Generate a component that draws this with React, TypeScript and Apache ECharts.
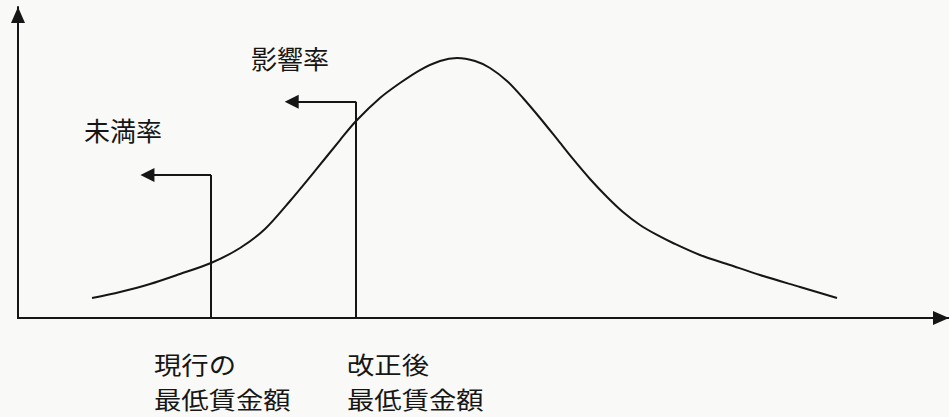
import React, { useEffect, useRef } from "react";
import * as echarts from "echarts";

// Wage index (x) and share of workers (y), conceptual distribution
const curveX = [7.95, 10.96, 14.18, 17.4, 20.73, 23.85, 26.53, 29.22, 31.9, 34.59, 36.31, 38.88, 41.03, 43.18, 45.33, 47.15, 49.09, 50.7, 52.52, 54.24, 56.07, 57.89, 59.61, 61.44, 63.27, 64.98, 66.81, 68.64, 70.35, 73.25, 76.48, 79.7, 84.0, 87.97];
const curveY = [6.43, 8.36, 10.93, 14.15, 17.68, 22.51, 28.62, 37.62, 47.27, 57.23, 63.34, 70.74, 75.56, 79.74, 82.64, 83.6, 82.64, 80.39, 76.21, 70.74, 64.31, 57.56, 51.13, 44.69, 38.91, 34.08, 29.9, 26.69, 24.12, 20.26, 17.04, 13.83, 9.97, 6.43];

// Minimum wage markers: [current, revised]
const wageX = [20.73, 36.31];
const markerTopY = [46.0, 69.5];
const arrowEndX = [13.9, 29.4];

const rateLabels = ["未満率", "影響率"];
const wageLabelLine1 = ["現行の", "改正後"];
const wageLabelLine2 = ["最低賃金額", "最低賃金額"];

const INK = "#161616";

export default function App() {
  const ref = useRef<HTMLDivElement>(null);
  useEffect(() => {
    if (!ref.current) return;
    const chart = echarts.init(ref.current, null, { renderer: "svg" });
    const curve = curveX.map((x, i) => [x, curveY[i]]);
    const verticals = wageX.map((x, i) => ({ coords: [[x, 0], [x, markerTopY[i]]] }));
    const arrows = wageX.map((x, i) => ({ coords: [[x, markerTopY[i]], [arrowEndX[i], markerTopY[i]]] }));
    const textFont = '"Noto Sans CJK JP", "Noto Sans", sans-serif';
    const labelLeft = [154, 347];
    chart.setOption({
      animation: false,
      backgroundColor: "#f9f9f7",
      grid: { left: 18, right: 0, top: 7, bottom: 99 },
      xAxis: {
        type: "value",
        min: 0,
        max: 100,
        axisLine: { show: true, symbol: ["none", "triangle"], symbolSize: [14, 16], symbolOffset: [0, -8], lineStyle: { color: INK, width: 2 } },
        axisTick: { show: false },
        axisLabel: { show: false },
        splitLine: { show: false },
      },
      yAxis: {
        type: "value",
        min: 0,
        max: 100,
        axisLine: { show: true, symbol: ["none", "triangle"], symbolSize: [14, 16], symbolOffset: [0, -8], lineStyle: { color: INK, width: 2 } },
        axisTick: { show: false },
        axisLabel: { show: false },
        splitLine: { show: false },
      },
      series: [
        {
          type: "line",
          data: curve,
          smooth: 0.3,
          showSymbol: false,
          lineStyle: { color: INK, width: 2 },
        },
        {
          type: "lines",
          coordinateSystem: "cartesian2d",
          data: verticals,
          symbol: ["none", "none"],
          lineStyle: { color: INK, width: 2, opacity: 1, curveness: 0 },
        },
        {
          type: "lines",
          coordinateSystem: "cartesian2d",
          data: arrows,
          symbol: ["none", "triangle"],
          symbolSize: [0, 14],
          lineStyle: { color: INK, width: 2, opacity: 1, curveness: 0 },
        },
      ],
      graphic: [
        { type: "text", left: 84, top: 116, style: { text: rateLabels[0], font: `26px ${textFont}`, fill: INK } },
        { type: "text", left: 251, top: 44, style: { text: rateLabels[1], font: `26px ${textFont}`, fill: INK } },
        ...wageLabelLine1.map((t, i) => ({ type: "text", x: labelLeft[i], y: 351, scaleX: 1.14, style: { text: t, font: `24px ${textFont}`, fill: INK } })),
        ...wageLabelLine2.map((t, i) => ({ type: "text", x: labelLeft[i], y: 386, scaleX: 1.14, style: { text: t, font: `24px ${textFont}`, fill: INK } })),
      ],
    });
    return () => chart.dispose();
  }, []);
  return <div ref={ref} style={{ position: "absolute", left: 0, top: 0, width: 949, height: 417 }} />;
}
